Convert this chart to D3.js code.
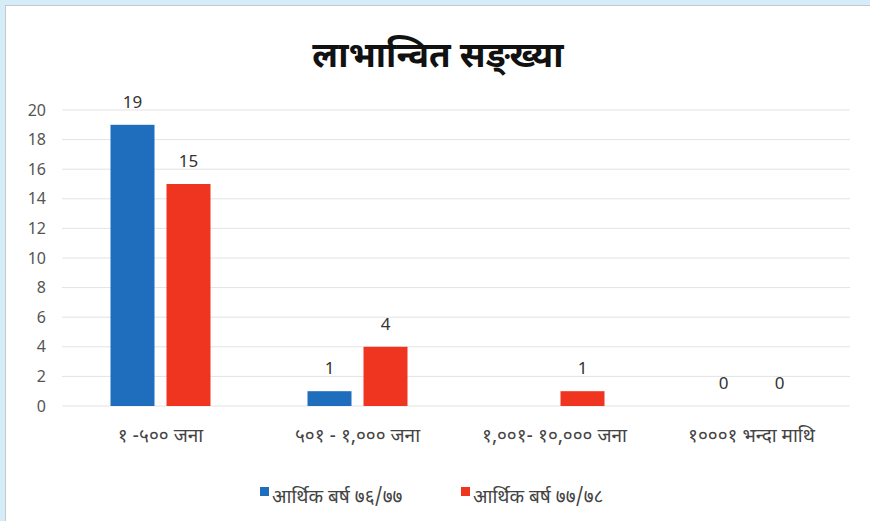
<!DOCTYPE html>
<html>
<head>
<meta charset="utf-8">
<script src="https://cdn.jsdelivr.net/npm/d3@7"></script>
<style>
  body { margin: 0; background: #d4edf9; }
  #chart { position: absolute; left: 5px; top: 5px; }
  text { font-family: "Noto Sans Devanagari", "Lohit Devanagari", "Noto Sans", "DejaVu Sans", sans-serif; }
</style>
</head>
<body>
<div id="chart"></div>
<script>
// Data
const categories = ["१ -५०० जना", "५०१ - १,००० जना", "१,००१- १०,००० जना", "१०००१ भन्दा माथि"];
const seriesNames = ["आर्थिक बर्ष ७६/७७", "आर्थिक बर्ष ७७/७८"];
const year7677 = [19, 1, null, 0];
const year7778 = [15, 4, 1, 0];
const yTicks = [0, 2, 4, 6, 8, 10, 12, 14, 16, 18, 20];
const colors = ["#1f6ebd", "#ef3420"];

// Page offset: chart sits inside a light blue frame
const W = 865, H = 516;
var margin = { top: 104, right: 21, bottom: 116, left: 56 },
  width = W - margin.left - margin.right,
  height = H - margin.top - margin.bottom;

const root = d3.select("#chart")
  .append("svg")
  .attr("width", W)
  .attr("height", H)
  .style("background", "#fff")
  .style("border-left", "1px solid #c8c8c8")
  .style("border-top", "1px solid #c8c8c8");

const svg = root.append("g")
  .attr("transform", `translate(${margin.left}, ${margin.top})`);

// Title
root.append("text")
  .attr("x", 432)
  .attr("y", 61)
  .attr("text-anchor", "middle")
  .attr("font-size", "35px")
  .attr("font-weight", "bold")
  .attr("fill", "#111")
  .text("लाभान्वित सङ्ख्या");

// Scales
const x = d3.scaleBand()
  .domain(categories)
  .range([0, width]);

const y = d3.scaleLinear()
  .domain([0, 20])
  .range([height, 0]);

// Gridlines
svg.selectAll("grid")
  .data(yTicks)
  .join("line")
  .attr("x1", 0)
  .attr("x2", width)
  .attr("y1", d => y(d))
  .attr("y2", d => y(d))
  .attr("stroke", "#e3e3e3")
  .attr("stroke-width", 1);

// Y axis labels
const yAxis = svg.append("g")
  .call(d3.axisLeft(y).tickValues(yTicks).tickSize(0).tickPadding(16));
yAxis.select(".domain").remove();
yAxis.selectAll("text")
  .attr("font-size", "16px")
  .attr("fill", "#555")
  .style("font-family", "'Noto Sans', sans-serif");

// X axis labels
const xAxis = svg.append("g")
  .attr("transform", `translate(0, ${height})`)
  .call(d3.axisBottom(x).tickSize(0).tickPadding(23));
xAxis.select(".domain").remove();
xAxis.selectAll("text")
  .attr("font-size", "19px")
  .attr("fill", "#444");

// Bars
const barW = 44, gap = 12;
const series = [year7677, year7778];
series.forEach(function (vals, s) {
  const off = s === 0 ? -gap / 2 - barW : gap / 2;
  const rows = categories.map((c, i) => ({ c: c, v: vals[i] })).filter(d => d.v !== null);

  svg.selectAll("bar" + s)
    .data(rows)
    .join("rect")
    .attr("x", d => x(d.c) + x.bandwidth() / 2 + off)
    .attr("y", d => y(d.v))
    .attr("width", barW)
    .attr("height", d => height - y(d.v))
    .attr("fill", colors[s]);

  svg.selectAll("lbl" + s)
    .data(rows)
    .join("text")
    .attr("x", d => x(d.c) + x.bandwidth() / 2 + off + barW / 2)
    .attr("y", d => y(d.v) - 17)
    .attr("text-anchor", "middle")
    .attr("font-size", "17px")
    .attr("fill", "#333")
    .style("font-family", "'Noto Sans', sans-serif")
    .text(d => d.v);
});

// Legend
const legendX = [254, 455];
seriesNames.forEach(function (name, s) {
  root.append("rect")
    .attr("x", legendX[s])
    .attr("y", 481)
    .attr("width", 9)
    .attr("height", 9)
    .attr("fill", colors[s]);
  root.append("text")
    .attr("x", legendX[s] + 12)
    .attr("y", 497)
    .attr("font-size", "19px")
    .attr("fill", "#444")
    .text(name);
});
</script>
</body>
</html>
